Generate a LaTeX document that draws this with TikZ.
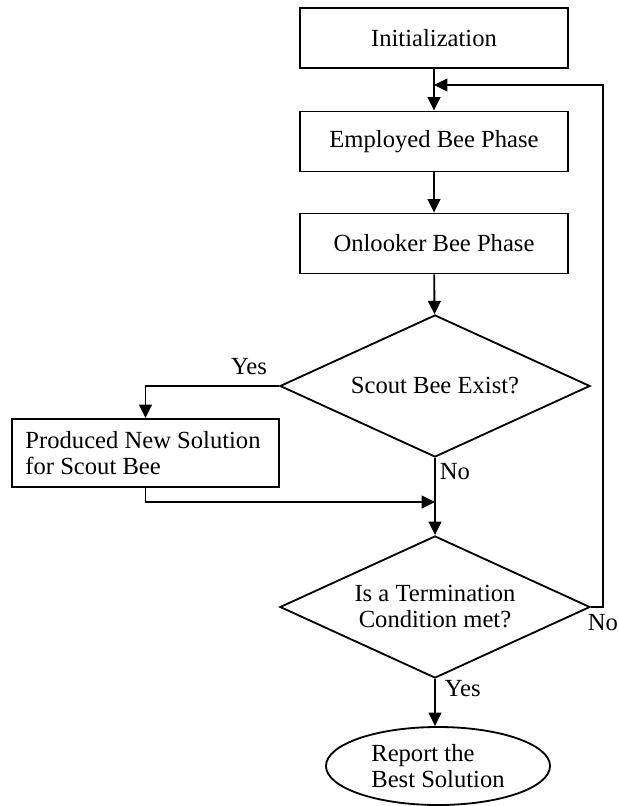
\documentclass[tikz,border=0pt]{standalone}
\usepackage{fontspec}
\setmainfont{Liberation Serif}
\usetikzlibrary{arrows.meta,shapes.geometric}

\tikzset{
  procbox/.style={draw, rectangle, minimum width=6.7cm, minimum height=1.5cm, inner sep=0pt},
  decision/.style={draw, diamond, aspect=2.18, minimum width=7.75cm, minimum height=3.55cm, inner sep=0pt, align=center},
  endpoint/.style={draw, ellipse, minimum width=5.6cm, minimum height=1.95cm, inner sep=0pt, align=left},
  flow/.style={-{Triangle[length=9.5pt,width=9pt]}},
  tag/.style={inner sep=0pt}
}

\begin{document}
\begin{tikzpicture}[x=0.025cm, y=-0.025cm, line width=1.3pt,
    font=\fontsize{17.5}{18.5}\selectfont]
				\useasboundingbox (0,0) rectangle (617,806);
				
				% main column
				\node[procbox] (init) at (434,38) {Initialization};
				\node[procbox] (employed) at (434,141.5) {Employed Bee Phase};
				\node[procbox] (onlooker) at (434,243.5) {Onlooker Bee Phase};
				\node[decision] (scout) at (435,386) {Scout Bee Exist?};
				\node[decision] (term) at (435,607) {Is a Termination\\Condition met?};
				\node[endpoint] (report) at (438,766) {Report the\\Best Solution};
				
				% side branch
				\node[draw, rectangle, text width=6cm, inner xsep=0.34cm, inner ysep=0pt,
				      minimum height=1.7cm, align=flush left] (produced) at (145.5,453)
				      {Produced New Solution\\for Scout Bee};
				
				\coordinate (merge) at (434,85);
				\coordinate (join) at (435,502);
				
				\draw[flow] (init) -- (employed);
				\draw[flow] (employed) -- (onlooker);
				\draw[flow] (onlooker) -- (scout);
				\draw[flow] (scout.west) -| (produced.north);
				\draw[flow] (produced.south) |- (join);
				\draw[flow] (scout.south) -- (term.north);
				\draw[flow] (term.south) -- (term.south |- report.north);
				\draw[flow] (term.east) -- ++(12,0) |- (merge);
				
				% labels
				\node[tag] (yes1) at (249,367) {Yes};
				\node[tag, anchor=west] (no1) at (439,472) {No};
				\node[tag, anchor=west] (no2) at (587,623) {No};
				\node[tag, anchor=west] (yes2) at (444,689) {Yes};
			\end{tikzpicture}
\end{document}
